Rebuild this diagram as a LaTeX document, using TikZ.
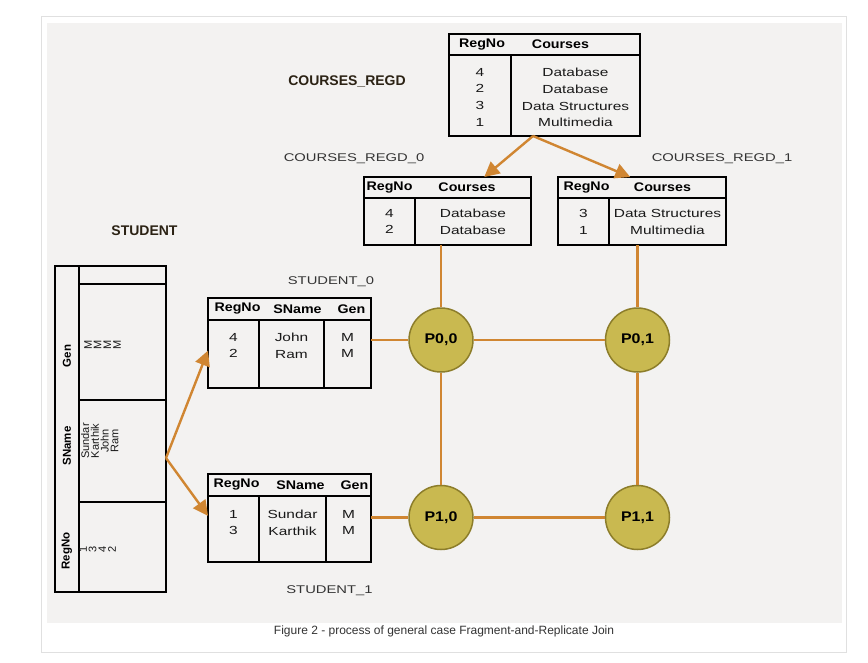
\documentclass[tikz,border=0pt]{standalone}
\usepackage{fontspec}
\setmainfont{Liberation Sans}
\newfontfamily\tabfont[FakeStretch=1.32]{Liberation Sans}
\newfontfamily\hdfont[FakeStretch=1.14]{Liberation Sans}
\usetikzlibrary{positioning,arrows.meta,calc}

\definecolor{wirecol}{RGB}{208,134,50}
\definecolor{procfill}{RGB}{201,185,80}
\definecolor{procline}{RGB}{140,125,42}
\definecolor{panel}{RGB}{243,242,241}
\definecolor{labelbrown}{RGB}{43,34,20}

\tikzset{
  cell/.style={draw,line width=1.7pt,inner sep=0pt,outer sep=0pt,anchor=north west},
  hrow/.style={cell,minimum height=21pt},
  htext/.style={font=\hdfont\bfseries\fontsize{12.5}{14}\selectfont,inner sep=0pt},
  btext/.style={font=\tabfont\fontsize{11.7}{16.7}\selectfont,align=center,inner sep=0pt,text=black!90},
  rhead/.style={font=\bfseries\fontsize{11.5}{14}\selectfont,rotate=90,inner sep=0pt},
  rtext/.style={font=\fontsize{11}{9.7}\selectfont,rotate=90,align=center,inner sep=0pt,anchor=north,text=black!90},
  tname/.style={font=\tabfont\fontsize{11.2}{14}\selectfont,text=black!80},
  bigname/.style={font=\bfseries\fontsize{14}{16}\selectfont,text=labelbrown},
  proc/.style={circle,draw=procline,fill=procfill,line width=1.5pt,minimum size=64pt,inner sep=0pt,font=\hdfont\bfseries\fontsize{14}{16}\selectfont},
  wire/.style={color=wirecol,line width=2.4pt},
}

\begin{document}
\begin{tikzpicture}[x=1pt,y=-1pt,>={Triangle[length=15pt,width=15pt]}]
\useasboundingbox (0,0) rectangle (868,662);
\fill[white] (0,0) rectangle (868,662);
\draw[black!12,fill=white] (41,16) rectangle (846,652);
\fill[panel] (47,23) rectangle (842,623);

% COURSES_REGD
\node[hrow,minimum width=191pt] (crh) at (449,34) {};
\node[cell,minimum width=62pt,minimum height=81pt] (cra) at (crh.south west) {};
\node[cell,minimum width=129pt,minimum height=81pt,right=0pt of cra] (crb) {};
\node[htext,xshift=2pt] (crh1) at (crh.center -| cra.center) {RegNo};
\node[htext,xshift=-15pt] (crh2) at (crh.center -| crb.center) {Courses};
\node[btext,below=13pt of cra.north] (cra1) {4\\2\\3\\1};
\node[btext,below=13pt of crb.north] (crb1) {Database\\Database\\Data Structures\\Multimedia};
\node[bigname] (crname) at (347,81) {COURSES\_REGD};

% COURSES_REGD_0
\node[hrow,minimum width=167pt] (cr0h) at (364,177) {};
\node[cell,minimum width=51pt,minimum height=47pt] (cr0a) at (cr0h.south west) {};
\node[cell,minimum width=116pt,minimum height=47pt,right=0pt of cr0a] (cr0b) {};
\node[htext] (cr0h1) at (cr0h.center -| cr0a.center) {RegNo};
\node[htext,xshift=-6pt] (cr0h2) at (cr0h.center -| cr0b.center) {Courses};
\node[btext,below=11pt of cr0a.north] (cr0a1) {4\\2};
\node[btext,below=11pt of cr0b.north] (cr0b1) {Database\\Database};
\node[tname] (cr0name) at (354,159) {COURSES\_REGD\_0};

% COURSES_REGD_1
\node[hrow,minimum width=168pt] (cr1h) at (558,177) {};
\node[cell,minimum width=51pt,minimum height=47pt] (cr1a) at (cr1h.south west) {};
\node[cell,minimum width=117pt,minimum height=47pt,right=0pt of cr1a] (cr1b) {};
\node[htext,xshift=3pt] (cr1h1) at (cr1h.center -| cr1a.center) {RegNo};
\node[htext,xshift=-5pt] (cr1h2) at (cr1h.center -| cr1b.center) {Courses};
\node[btext,below=11pt of cr1a.north] (cr1a1) {3\\1};
\node[btext,below=11pt of cr1b.north] (cr1b1) {Data Structures\\Multimedia};
\node[tname] (cr1name) at (722,159) {COURSES\_REGD\_1};

% STUDENT (turned)
\node[cell,minimum width=24pt,minimum height=326pt] (sth) at (55,266) {};
\node[cell,minimum width=87pt,minimum height=18pt] (stt) at (sth.north east) {};
\node[cell,minimum width=87pt,minimum height=116pt,below=0pt of stt] (stg) {};
\node[cell,minimum width=87pt,minimum height=102pt,below=0pt of stg] (stn) {};
\node[cell,minimum width=87pt,minimum height=90pt,below=0pt of stn] (str) {};
\node[rhead] (sth1) at ($(sth.center |- stg.center)+(0,14)$) {Gen};
\node[rhead] (sth2) at ($(sth.center |- stn.center)+(0,-5)$) {SName};
\node[rhead] (sth3) at ($(sth.center |- str.center)+(0,4)$) {RegNo};
\node[rtext] (stg1) at ($(stg.west)+(5,3)$) {M\\M\\M\\M};
\node[rtext] (stn1) at ($(stn.west)+(2,-10)$) {Sundar\\Karthik\\John\\Ram};
\node[rtext] (str1) at ($(str.west)+(0,2)$) {1\\3\\4\\2};
\node[bigname] (stname) at (144.5,230.5) {STUDENT};
\coordinate (fork) at ($(stn.east)+(0,7)$);

% STUDENT_0
\node[hrow,minimum width=163pt,minimum height=22pt] (s0h) at (208,298) {};
\node[cell,minimum width=51pt,minimum height=68pt] (s0a) at (s0h.south west) {};
\node[cell,minimum width=65pt,minimum height=68pt,right=0pt of s0a] (s0b) {};
\node[cell,minimum width=47pt,minimum height=68pt,right=0pt of s0b] (s0c) {};
\node[htext,xshift=4pt] (s0h1) at (s0h.center -| s0a.center) {RegNo};
\node[htext,xshift=6pt] (s0h2) at (s0h.center -| s0b.center) {SName};
\node[htext,xshift=4pt] (s0h3) at (s0h.center -| s0c.center) {Gen};
\node[btext,below=13pt of s0a.north] (s0a1) {4\\2};
\node[btext,below=13pt of s0b.north] (s0b1) {John\\Ram};
\node[btext,below=13pt of s0c.north] (s0c1) {M\\M};
\node[tname] (s0name) at (331,282) {STUDENT\_0};

% STUDENT_1
\node[hrow,minimum width=163pt,minimum height=22pt] (s1h) at (208,474) {};
\node[cell,minimum width=51pt,minimum height=66pt] (s1a) at (s1h.south west) {};
\node[cell,minimum width=67pt,minimum height=66pt,right=0pt of s1a] (s1b) {};
\node[cell,minimum width=45pt,minimum height=66pt,right=0pt of s1b] (s1c) {};
\node[htext,xshift=3pt] (s1h1) at (s1h.center -| s1a.center) {RegNo};
\node[htext,xshift=8pt] (s1h2) at (s1h.center -| s1b.center) {SName};
\node[htext,xshift=6pt] (s1h3) at (s1h.center -| s1c.center) {Gen};
\node[btext,below=14pt of s1a.north] (s1a1) {1\\3};
\node[btext,below=14pt of s1b.north] (s1b1) {Sundar\\Karthik};
\node[btext,below=14pt of s1c.north] (s1c1) {M\\M};
\node[tname] (s1name) at (329.5,591) {STUDENT\_1};

% processors
\node[proc] (p00) at (441,340) {P0,0};
\node[proc,right=131pt of p00] (p01) {P0,1};
\node[proc,below=112pt of p00] (p10) {P1,0};
\node[proc,right=131pt of p10] (p11) {P1,1};

\path[wire] (p00) edge (p01)
                  edge (p10)
                  edge (p00 |- cr0a.south)
                  edge (p00 -| s0c.east)
            (p11) edge (p01)
                  edge (p10)
            (p01) edge (p01 |- cr1b.south)
            (p10) edge (p10 -| s1c.east);

\coordinate (split) at ($(cra.south west)!0.44!(crb.south east)$);
\path[wire,->] (split) edge ($(cr0h.north west)!0.72!(cr0h.north east)$)
                       edge ($(cr1h.north west)!0.43!(cr1h.north east)$)
               (fork)  edge ($(s0a.north west)!0.45!(s0a.south west)$)
                       edge ($(s1a.north west)!0.3!(s1a.south west)$);

\node[font=\fontsize{12}{14}\selectfont,text=black!80] (caption) at (444,631) {Figure 2 - process of general case Fragment-and-Replicate Join};
\end{tikzpicture}
\end{document}
